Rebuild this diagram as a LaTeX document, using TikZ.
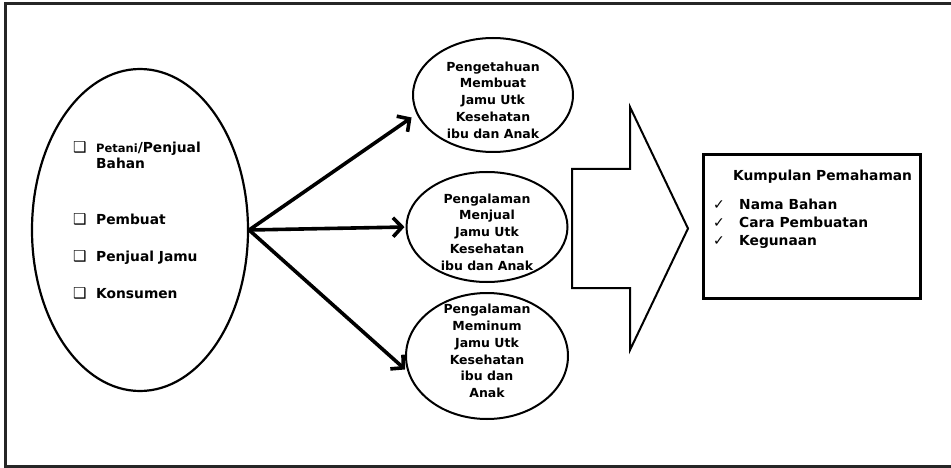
\documentclass[tikz,border=0pt]{standalone}
\usepackage{fontspec}
\setmainfont{DejaVu Sans}
\usepackage{tikz}
\usetikzlibrary{shapes,
                arrows.meta,
                positioning}
\tikzset{group/.style=
   {ellipse,
    draw,
    line width=2.2pt,
    inner sep=0pt}}
\tikzset{bubble/.style =
   {ellipse,
    draw,
    line width=2pt,
    inner sep=0pt}}
\tikzset{bubble-text/.style =
   {align=center,
    inner sep=0pt,
    font=\fontsize{12.5}{16.7}\selectfont\bfseries}}
\tikzset{item/.style =
   {anchor=base west,
    align=left,
    inner sep=0pt,
    font=\fontsize{13.8}{17}\selectfont\bfseries}}
\tikzset{result/.style =
   {rectangle,
    draw,
    line width=2.8pt,
    inner sep=0pt,
    anchor=north west}}
\tikzset{arrow/.style = {draw, line width=3.6pt, -{Straight Barb[length=9pt,width=19pt]}}}
\newcommand{\qbox}{\makebox[23pt][l]{\fontsize{15}{15}\selectfont\mdseries ❑}}
\newcommand{\chk}{\makebox[26pt][l]{\fontsize{14}{14}\selectfont\mdseries ✓}}

\begin{document}
\begin{tikzpicture}[x=1pt,y=-1pt]

    \clip (0,0) rectangle (951,468);
    \draw[line width=3pt, black!85] (5,4) rectangle (960,466);

    % actors
    \node [group,
           minimum width=216pt,
           minimum height=322pt] (actors) at (140,230) {};

    \node [item] (farmer) at (73,169)
    {\qbox{\fontsize{11.5}{11}\selectfont Petani}/Penjual\\\hspace*{23pt}Bahan};
    \node [item] (maker) at (73,224) {\qbox Pembuat};
    \node [item] (seller) at (73,261) {\qbox Penjual Jamu};
    \node [item] (buyer) at (73,298) {\qbox Konsumen};

    % experiences
    \node [bubble,
           minimum width=160pt,
           minimum height=114pt] (know) at (493,95) {};
    \node [bubble,
           minimum width=161pt,
           minimum height=110pt] (sell) at (487,227) {};
    \node [bubble,
           minimum width=162pt,
           minimum height=126pt] (drink) at (487,356) {};

    \node [bubble-text] (know-text) at (493,100)
    {Pengetahuan\\Membuat\\Jamu Utk\\Kesehatan\\ibu dan Anak};
    \node [bubble-text] (sell-text) at (487,232)
    {Pengalaman\\Menjual\\Jamu Utk\\Kesehatan\\ibu dan Anak};
    \node [bubble-text] (drink-text) at (487,351)
    {Pengalaman\\Meminum\\Jamu Utk\\Kesehatan\\ibu dan\\Anak};

    \draw [arrow, shorten >=6pt] (actors.east) -- (know.194);
    \draw [arrow, shorten >=1pt] (actors.east) -- (sell.west);
    \draw [arrow, shorten >=3pt] (actors.east) -- (drink.191);

    % block arrow
    \draw [line width=2pt, line join=miter]
        (572,169) -- (630,169) -- (630,107) -- (688,228.5)
        -- (630,350) -- (630,288) -- (572,288) -- cycle;

    % summary
    \node [result,
           minimum width=217pt,
           minimum height=144pt] (summary) at (702,153) {};
    \node [item] (summary-title) at (733,181) {Kumpulan Pemahaman};
    \node [item,
           font=\fontsize{13.8}{18}\selectfont\bfseries] (summary-list) at (713,245)
    {\chk Nama Bahan\\\chk Cara Pembuatan\\\chk Kegunaan};

\end{tikzpicture}
\end{document}
